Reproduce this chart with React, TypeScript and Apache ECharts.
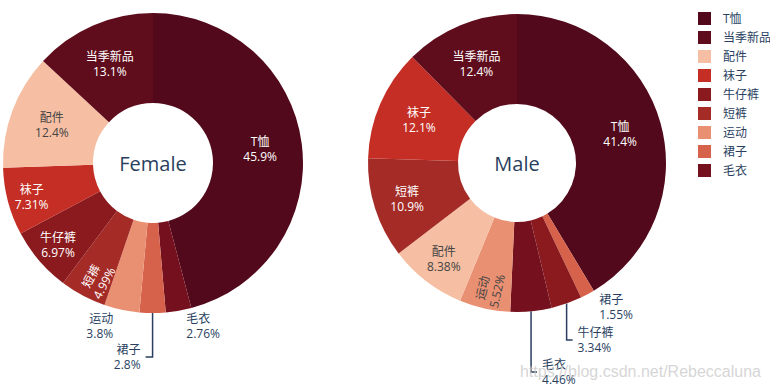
import React, { useEffect, useRef } from 'react';
import * as echarts from 'echarts';

const categories = ['T恤', '当季新品', '配件', '袜子', '牛仔裤', '短裤', '运动', '裙子', '毛衣'];
const colors = ['#52091b', '#5f0d1c', '#f6bfa3', '#c52e24', '#8b1a1f', '#a52b27', '#ea9072', '#d6624b', '#75111f'];
const femaleValues = [45.9, 13.1, 12.4, 7.31, 6.97, 4.99, 3.8, 2.8, 2.76];
const maleValues = [41.4, 12.4, 8.38, 12.1, 3.34, 10.9, 5.52, 1.55, 4.46];
const pieTitles = ['Female', 'Male'];
const watermark = 'https://blog.csdn.net/Rebeccaluna';

const FONT = '"Open Sans", "Noto Sans CJK SC", sans-serif';
const TEXT_DARK = '#2a3f5f';

type LabelCfg = {
  outside?: boolean;
  length?: number;
  length2?: number;
  line?: boolean;
  vertical?: boolean;
  radial?: boolean;
  dx?: number;
  dy?: number;
};

const femaleLabelCfg: Record<string, LabelCfg> = {
  '毛衣': { outside: true, length: 15.5, length2: 0 },
  '运动': { outside: true, length: 17, length2: 0 },
  '裙子': { outside: true, length: 44, length2: 7, line: true, vertical: true },
  '短裤': { radial: true, dx: -5, dy: 21 },
  '牛仔裤': { dx: -13, dy: 12 },
  '袜子': { dx: -17, dy: 6 },
};

const maleLabelCfg: Record<string, LabelCfg> = {
  '裙子': { outside: true, length: 14.3, length2: 0 },
  '牛仔裤': { outside: true, length: 38.6, length2: 6, line: true, vertical: true },
  '毛衣': { outside: true, length: 61, length2: 6, line: true, vertical: true },
  '运动': { radial: true, dx: -4, dy: 22 },
  '配件': { dx: -8, dy: 11 },
  '短裤': { dx: -8, dy: 3 },
};

const centers: [number, number][] = [[153, 163], [517, 163]];
const radii: [number, number][] = [[60, 150], [59, 149]];

function textColorFor(hex: string): string {
  const r = parseInt(hex.slice(1, 3), 16);
  const g = parseInt(hex.slice(3, 5), 16);
  const b = parseInt(hex.slice(5, 7), 16);
  const brightness = (r * 299 + g * 587 + b * 114) / 1000;
  return brightness > 128 ? '#444' : '#fff';
}

function buildData(values: number[], cfg: Record<string, LabelCfg>) {
  const items = categories.map((name, i) => ({ name, value: values[i], color: colors[i] }));
  items.sort((a, b) => b.value - a.value);
  const [first, ...rest] = items;
  rest.reverse();
  return [first, ...rest].map((it) => {
    const c = cfg[it.name] || {};
    return {
      name: it.name,
      value: it.value,
      itemStyle: { color: it.color },
      label: c.outside
        ? { position: 'outside', color: TEXT_DARK }
        : { position: 'inside', color: textColorFor(it.color), rotate: c.radial ? 'radial' : 0 },
      labelLine: {
        show: !!c.line,
        length: c.length ?? 0,
        length2: c.length2 ?? 0,
        lineStyle: { color: TEXT_DARK, width: 1.5 },
      },
    };
  });
}

export default function App() {
  const ref = useRef<HTMLDivElement>(null);

  useEffect(() => {
    if (!ref.current) return;
    const chart = echarts.init(ref.current, undefined, { renderer: 'svg' });
    const cfgs = [femaleLabelCfg, maleLabelCfg];
    const datas = [buildData(femaleValues, femaleLabelCfg), buildData(maleValues, maleLabelCfg)];

    const series = datas.map((data, si) => ({
      type: 'pie',
      name: pieTitles[si],
      center: centers[si],
      radius: radii[si],
      startAngle: 90,
      clockwise: true,
      avoidLabelOverlap: false,
      data,
      label: {
        show: true,
        fontSize: 12,
        lineHeight: 15,
        fontFamily: FONT,
        formatter: (p: any) => `${p.name}\n${p.value}%`,
        distanceToLabelLine: 5,
      },
      itemStyle: { borderWidth: 0 },
      emphasis: { disabled: true },
      labelLayout: (params: any) => {
        const item = data[params.dataIndex];
        const c = item ? cfgs[si][item.name] || {} : {};
        if (c.vertical && params.labelLinePoints && params.labelLinePoints.length >= 3) {
          const p = params.labelLinePoints;
          const sign = p[2][0] - p[1][0] >= 0 ? 1 : -1;
          const x0 = p[0][0];
          const y1 = p[1][1];
          const x2 = x0 + (p[2][0] - p[1][0]);
          return {
            labelLinePoints: [[x0, p[0][1]], [x0, y1], [x2, y1]],
            x: x2 + sign * 5,
            y: y1,
            align: sign > 0 ? 'left' : 'right',
            verticalAlign: 'middle',
          };
        }
        if ((c.dx || c.dy) && params.labelRect) {
          const r = params.labelRect;
          return {
            x: r.x + r.width / 2 + (c.dx || 0),
            y: r.y + r.height / 2 + (c.dy || 0),
            align: 'center',
            verticalAlign: 'middle',
          };
        }
        return {};
      },
    }));

    chart.setOption({
      animation: false,
      legend: {
        data: categories,
        orient: 'vertical',
        left: 693,
        top: 7,
        itemWidth: 13,
        itemHeight: 13,
        itemGap: 6,
        icon: 'rect',
        selectedMode: false,
        textStyle: { fontSize: 12, color: TEXT_DARK, fontFamily: FONT, padding: [0, 0, 0, 7] },
      },
      graphic: [
        ...pieTitles.map((t, i) => ({
          type: 'text',
          x: centers[i][0],
          y: centers[i][1],
          style: {
            text: t,
            align: 'center',
            verticalAlign: 'middle',
            fontSize: 20,
            fontFamily: FONT,
            fill: TEXT_DARK,
          },
        })),
        {
          type: 'text',
          x: 761,
          y: 371,
          z: 100,
          style: {
            text: watermark,
            align: 'right',
            verticalAlign: 'middle',
            fontSize: 16,
            fontFamily: '"Liberation Sans", Arial, sans-serif',
            fill: 'rgba(200,200,200,0.75)',
          },
        },
      ],
      series,
    });
    return () => chart.dispose();
  }, []);

  return (
    <div
      ref={ref}
      style={{ position: 'fixed', left: 0, top: 0, width: 770, height: 390, background: '#fff' }}
    />
  );
}
